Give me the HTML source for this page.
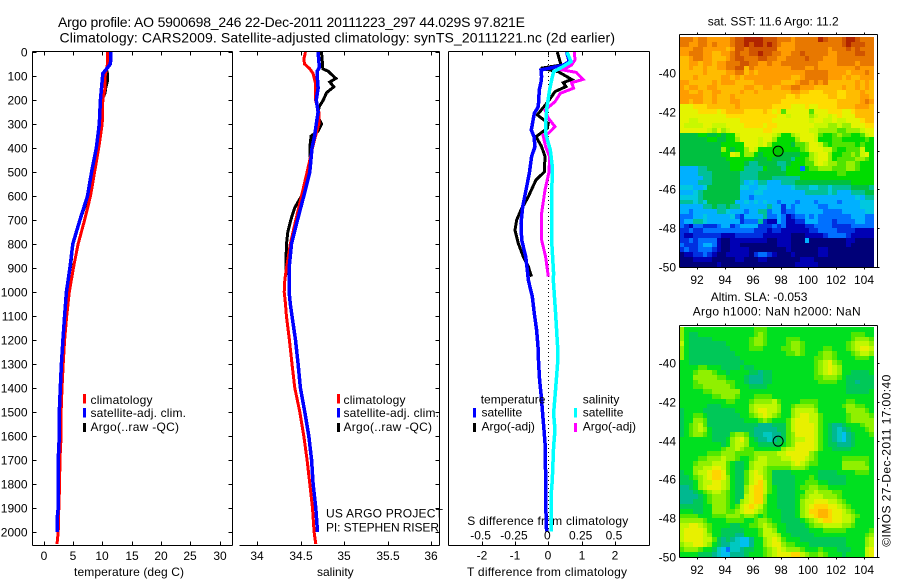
<!DOCTYPE html>
<html>
<head>
<meta charset="utf-8">
<title>Argo profile</title>
<style>
html,body{margin:0;padding:0;background:#fff;}
svg{display:block;}
text{font-family:"Liberation Sans",Arial,sans-serif;font-size:12px;fill:#000;}
.t14{font-size:14px;}
</style>
</head>
<body>
<svg id="chart" xmlns="http://www.w3.org/2000/svg" width="900" height="580" viewBox="0 0 900 580">
<text class="t14" x="58" y="27" textLength="467" lengthAdjust="spacing">Argo profile: AO 5900698_246 22-Dec-2011 20111223_297 44.029S 97.821E</text>
<text class="t14" x="59.5" y="42.5" textLength="555.5" lengthAdjust="spacing">Climatology: CARS2009. Satellite-adjusted climatology: synTS_20111221.nc (2d earlier)</text>

<text x="74" y="576" textLength="110" lengthAdjust="spacing">temperature (deg C)</text>
<text x="317" y="576">salinity</text>
<text x="467" y="576" textLength="160" lengthAdjust="spacing">T difference from climatology</text>
<text x="467.3" y="525" textLength="161" lengthAdjust="spacing">S difference from climatology</text>

<text x="326" y="517.7" textLength="117" lengthAdjust="spacing">US ARGO PROJECT</text>
<text x="326" y="531.7" textLength="113" lengthAdjust="spacing">PI: STEPHEN RISER</text>

<text x="707.7" y="25.7">sat. SST: 11.6 Argo: 11.2</text>
<text x="710.7" y="301">Altim. SLA: -0.053</text>
<text x="692.7" y="315.7" textLength="168" lengthAdjust="spacing">Argo h1000: NaN h2000: NaN</text>
<text transform="translate(890.5,546.7) rotate(-90)" x="0" y="0" textLength="172" lengthAdjust="spacing">©IMOS 27-Dec-2011 17:00:40</text>

<g id="maps"></g>
<g id="series"></g>
<g id="axes"></g>

<g>
<rect x="83" y="394" width="3" height="9.5" fill="#f00"/>
<text x="90.5" y="404" textLength="62" lengthAdjust="spacing">climatology</text>
<rect x="83" y="408" width="3" height="9.5" fill="#00f"/>
<text x="90.5" y="417" textLength="95.5" lengthAdjust="spacing">satellite-adj. clim.</text>
<rect x="83" y="423" width="3" height="9" fill="#000"/>
<text x="90.5" y="431" textLength="88.5" lengthAdjust="spacing">Argo(..raw -QC)</text>
</g>
<g>
<rect x="337" y="394" width="3" height="9.5" fill="#f00"/>
<text x="343.5" y="404" textLength="62" lengthAdjust="spacing">climatology</text>
<rect x="337" y="408" width="3" height="9.5" fill="#00f"/>
<text x="343.5" y="417" textLength="95.5" lengthAdjust="spacing">satellite-adj. clim.</text>
<rect x="337" y="423" width="3" height="9" fill="#000"/>
<text x="343.5" y="431" textLength="88.5" lengthAdjust="spacing">Argo(..raw -QC)</text>
</g>
<g>
<text x="480.7" y="403.3">temperature</text>
<rect x="473" y="408" width="3" height="9.5" fill="#00f"/>
<text x="481.5" y="416.7">satellite</text>
<rect x="473" y="423" width="3" height="9" fill="#000"/>
<text x="481.5" y="430.7">Argo(-adj)</text>
<text x="582.7" y="403.3">salinity</text>
<rect x="574" y="408" width="3" height="9.5" fill="#0ff"/>
<text x="582.7" y="416.7">satellite</text>
<rect x="574" y="423" width="3" height="9" fill="#f0f"/>
<text x="582.7" y="430.7">Argo(-adj)</text>
</g>
</svg>

<script>
// ---- tick labels ----
const depthTicks = [0,100,200,300,400,500,600,700,800,900,1000,1100,1200,1300,1400,1500,1600,1700,1800,1900,2000];
const tempTicks = [0,5,10,15,20,25,30];
const salTicks = [34,34.5,35,35.5,36];
const diffTTicks = [-2,-1,0,1,2];
const diffSTickLabels = [-0.5,-0.25,0,0.25,0.5];
const lonTicks = [92,94,96,98,100,102,104];
const latTicks = [-40,-42,-44,-46,-48,-50];
const profileLat = -44.029;
const profileLon = 97.821;

// ---- temperature profile ----
const tempClimDepth = [0,50,100,150,200,300,400,500,600,700,800,900,1000,1100,1200,1300,1400,1500,1600,1700,1800,1900,2000,2050];
const tempClimValues = [10.9,10.9,10.5,10.5,10.1,10.0,9.4,8.7,8.0,7.0,5.9,5.1,4.4,3.95,3.6,3.35,3.15,3.0,3.0,2.8,2.75,2.6,2.5,2.3];
const tempSatDepth = [0,50,75,90,200,300,400,500,600,700,800,900,1000,1100,1200,1300,1400,1500,1600,1700,1800,1900,1950,2000];
const tempSatValues = [11.5,11.4,10.6,10.1,9.7,9.5,9.0,8.2,7.5,6.2,5.0,4.5,3.9,3.6,3.3,3.05,2.86,2.7,2.7,2.5,2.5,2.5,2.3,2.3];
const tempArgoDepth = [0,50,70,90,120,150,170,200,300,350,400,500,600,700,800,850,900];
const tempArgoValues = [11.2,11.2,10.7,10.9,10.9,10.6,10.5,10.0,9.7,9.4,9.1,8.6,7.7,6.2,5.0,4.8,4.6];

// ---- salinity profile ----
const salClimDepth = [0,30,50,70,90,130,200,250,300,350,400,500,600,700,800,900,950,1000,1050,1100,1200,1300,1400,1500,1600,1700,1800,1900,2000,2050];
const salClimValues = [34.555,34.536,34.545,34.605,34.643,34.67,34.67,34.708,34.708,34.67,34.636,34.574,34.509,34.443,34.38,34.336,34.317,34.31,34.325,34.335,34.37,34.4,34.432,34.49,34.536,34.574,34.605,34.636,34.654,34.674];
const salSatDepth = [0,50,65,80,100,150,200,250,300,350,400,500,600,700,800,900,1000,1050,1100,1200,1300,1400,1500,1600,1700,1800,1900,2000];
const salSatValues = [34.70,34.712,34.715,34.69,34.69,34.70,34.68,34.70,34.68,34.66,34.63,34.605,34.536,34.463,34.394,34.366,34.366,34.38,34.40,34.44,34.47,34.497,34.547,34.593,34.625,34.643,34.674,34.693];
const salArgoDepth = [0,50,70,80,110,125,145,170,200,230,270,300,330,350,400,450,500,600,650,700,750,800,900,930];
const salArgoValues = [34.74,34.751,34.755,34.816,34.904,34.835,34.881,34.797,34.76,34.71,34.70,34.74,34.70,34.62,34.605,34.612,34.6,34.509,34.43,34.386,34.351,34.336,34.328,34.328];

// ---- difference panel: temperature differences ----
const dTSatDepth = [0,40,55,75,103,125,158,228,256,325,353,394,436,506,575,644,714,783,853,922,950,1019,1089,1158,1228,1297,1367,1436,1506,1575,1644,1783,1922,1998];
const dTSatValues = [0.55,0.63,0.45,-0.22,-0.2,-0.22,-0.27,-0.30,-0.42,-0.51,-0.43,-0.40,-0.5,-0.57,-0.67,-0.77,-0.82,-0.80,-0.68,-0.62,-0.6,-0.48,-0.42,-0.35,-0.31,-0.29,-0.26,-0.21,-0.17,-0.13,-0.09,-0.08,-0.07,-0.05];
const dTArgoDepth = [0,54,68,82,114,128,144,165,186,214,262,297,318,353,394,436,500,533,603,658,700,742,797,853,894,936];
const dTArgoValues = [0.27,0.38,-0.22,0.30,0.70,0.45,0.53,0.2,0.10,-0.05,-0.33,0,-0.03,-0.37,-0.2,-0.1,-0.12,-0.37,-0.6,-0.82,-0.95,-1.0,-0.9,-0.75,-0.6,-0.5];

// ---- difference panel: salinity differences ----
const dSArgoDepth = [0,33,54,75,85,114,128,151,172,207,242,276,311,339,346,394,436,500,575,672,783,853,936];
const dSArgoValues = [0.195,0.2,0.175,0.11,0.21,0.26,0.175,0.19,0.09,0.05,-0.025,0,0.05,0,-0.04,-0.02,0.01,0.005,-0.025,-0.05,-0.05,-0.02,0];
const dSSatDepth = [0,40,61,82,117,158,228,297,339,408,478,644,783,922,950,1089,1228,1297,1367,1436,1506,1575,1644,1783,1853,1922,1998];
const dSSatValues = [0.14,0.17,0.11,0.04,0.025,0.01,-0.01,-0.02,-0.02,0.015,0.03,0.025,0.025,0.04,0.0375,0.055,0.07,0.07,0.06,0.05,0.04,0.05,0.04,0.03,0.02,0.02,0.02];

// ---- map colour classes (low a -> high s) ----
const sstColors = {a:'#000078',b:'#0000b4',c:'#0030e0',d:'#0070ff',e:'#00b0ff',f:'#00c8e0',g:'#00c098',h:'#00c040',i:'#00dc00',j:'#50e400',k:'#98f000',l:'#c8f800',m:'#e4f400',n:'#ffdc00',o:'#ffbc00',p:'#ff9c00',q:'#e87800',r:'#d05400',s:'#b02400'};
const slaColors = {a:'#000078',b:'#0000b4',c:'#0030e0',d:'#0070ff',e:'#00c0f0',f:'#00c8c0',g:'#00b890',h:'#00c858',i:'#00e020',j:'#50e800',k:'#90f000',l:'#c0f800',m:'#e8f000',n:'#ffd400',o:'#ffb400'};

const sstRows = [
"qqqpqqpppp pqrrssssrr rqqqpqqqqq srqqqrssrq qq",
"qqppqqpqpp pqrrsrssrs rqpppqqqqq qqqqqrsrrr qq",
"pppqqppppp oprrqrrrrr rppppqqqqq qqpqqqrqrq qq",
"ppqqqppoop pqrqqrrsrr qqppqqrqqq qqppqqqqrr qq",
"oopqqppooo pqrrqqqrrq qppqqqqrqq qpppqqqqqq qq",
"ooppoppopp qqqrrqqppq ppqqqqqqqq ppppqqqqpq qq",
"oopoopoopp qqrroqpppp ppppqqqppq ppppppppqp pp",
"ooooopoooo ppqqopoppp pppppppqqq qqppppoppp qp",
"ooopooooop popopppppp ppppoopqqq qqpppopoop pp",
"ppooooopop ppoooopppp ppooopqqpq pqoooooopo po",
"poppooppoo ooooppoopp ooppqqpppo ooooopoopo po",
"ppoopooppo ooopoopooo ooooppoonn nooonnooop oo",
"pppppoopoo opoooooooo ooonnonnnn nnoonnooop po",
"ppoppoopoo oppooooooo oonnnnnnnn nnnnooooop qp",
"mmmnnnoooo oopooooooo nnnnmmmnmm nnnnoooopp po",
"mmmmnnnnmn oooonnnnon mnjmmmmmjm mmnnnmmnoo oo",
"mmmmmmmmmm nnnnnnnnnn nmmlmmmmkl mmlmnmmmoo oo",
"mmllmmmmmm mmmnnnnnnn mmmmmmmmlm mllmllmmmn oo",
"mllllmmlll mmmmnnnnmn nmmmmmmmml llkklkkmmm nn",
"mmmmmmlkmk lmmmmmmmnn mmmmmmmmll kkkkjjkkkl mm",
"hhhhiihhih iilmmmmmmm lkiiklmmml jiijkjjiij lm",
"hhhhhhiihh iikmmmmlmm kiiiikmmml iiijjiiiii ji",
"hhhhhhhhhi iiiimmmlmk iiiihjjkmm ljijjjjjij ii",
"hhhhhhhhhk ihiikmliii iiiiiijkmm mlljiijjjl ii",
"hhhhhhhhhi imlikkihii ihhhhhiikl mmkiijjkjl mi",
"hhhhhhhhhh iiiiiihhhi hhhhgiijkl mmkijjjjkk ji",
"hhhhhhhhhh hiiihgghhh hgghiiijjl mlkkjjkkji ii",
"eeeegghhhh hiiiggggih hhgiiidijj kkkjjjkkji ii",
"eeeeggghhh hhhgggghhh hhhiiiiiii iiiijjiiii ii",
"eeeeegghhh hhhgggghhh ggggggiiii iiiiiiiiii ii",
"eeeeggghhh hhhgefegge eeggghhhhh hhhhhhhiii ii",
"fffeefhhhh hhhffeeffe eeeefgggff ggfgggghhh hg",
"eeefghhhhh hhheeeffee eeeeeeeggg ggfgeeeggg hh",
"ffffghhhhh hhheedeeee eeeeeeeeee eeeeeeeefe gg",
"gggfgfhhhh hheefefefe edeeedeeed eeeedeeeef ff",
"eeeeegghgg hggeeeeeeg eecedeeeee ddeeeeeeef ff",
"eedeeeeegg feeedeeggd eecddeeeee eddddeeeee ff",
"dddeefeeee efdceeeegd dedbcddede dddddddeee dd",
"deeggfeeee eeecdddgcb bedbbcceee dddcddddee dd",
"dcbddcccde ecdeeeeccc dcdbbbbccd dddccccddd dd",
"ccdccddddd ddddddcccb ccbbbbbbcc ddddccccbb bb",
"cbbccccccb bbccccccbb bbbbaaabbb bcddddcbbb bb",
"ccdcddddba abbbbbbbba abbbaaaeaa aaaaaabbaa aa",
"dcccdeedba abbaaaaaaa abbbaaaaaa aaaaaabaaa aa",
"cdccdddcba abbbbaaaaa aaabaaaaaa bbaaaaaaaa aa",
"abbccdcbaa bbbbbacddc baaabaaaaa bbaaaaaaaa aa",
"aaabbbbaaa aabbaaabba aaaaaabbba aaaaaaaaaa aa",
"aaaaaaaaba aaaaaaaaaa aaaaabbbbb aaaaaaaaaa aa"
];

const slaRows = [
"kiiiiiiiii iiiiiijjji iiiiiiiiii iiiiiiiiii ii",
"kihhiiiiii iiiiiijkji iiiiiiiiii iiiiiiijjj ii",
"kihhhhhiii iiiiijkkji iiijjjiiii iiiiiiijkk kj",
"lihhhhhhhh iiiiijkkji iiijkkjiii iiiiiijkll lk",
"kihhhhhhhh hiiiijjjii iijjkkjiii ijjiiijklm ml",
"kihhhhhhhh hhiiiiiiii iiijjkjiii jkkjiiijkl lk",
"kihhhhhhhh hhhiiiiiii iiiiiiiiij jkkjiiiijj ji",
"iihhhhhhhh hhhhiiiiii iiiiiiiiij klmkjiiiii ii",
"iiiijjiiih hhhihhiiii iiiiiiiiij klmlkiiiii ii",
"iiijkkkjii hiiiihhghh iiiiiiiiij klmlkiihhh hi",
"iiikkkkkjj iiiihggghh iiiiiiiiij jkkkjihhhh hh",
"iiijkkkkkk jjiihggghh iiiiiiiiii jjjjiihhgh hh",
"iiijjkkkkk kjiiihhhhi iiiiiiiiii iiiiiihhhh hh",
"iiiiijjkkk kkkiiiiiii iiiiiiiiii iiiiiihhhh hi",
"iiiiiiijjk kkjiiijjjj iiiiiiiiii iiiiiiiiii ii",
"iiiiiiiiii jjiiijkkkk ljiiiijjjj iiiiiijjii ii",
"iiiiiihhhi iiiiikllll lkiijkkkkj iiiiijkkjj ii",
"hiiiihhhhh hhiiiklmml lkiikllllk iiiiiikkkk ji",
"hiijjihhhh hhhiijklml kjiiklmmll jiiiiijkkk kj",
"hiikkjhhhh hhhhiiijkj iiijlmmmll jiiiiijkkk kk",
"hijkljhhhh hhhhhhhggg hhhjlmmmml jihgghiiij kk",
"hijklkihhh hhhhhhgggg ghhjlmmmml jihgfghiii jk",
"hijkkjihhh hjkkjhggff gghjkmmmml jihgfeghii ij",
"iiiiiiihhh iklmkihggf ghhjkllmml jihgfeghii ii",
"iiiiiiiiih ikllkiihhh hhijkmmmml jihhggghii ii",
"iiiiiiiiij kklkjjiiii iikllmmmml jiihhhhiii ii",
"iiiiiijjjk kkjjjjkkkk kllmmmmmkj iiiiiiiiii ii",
"iiiijjkkkl kkjiijkllk kkllmmmlkj iiiiijjjjj ji",
"iiijkkklll jihhiklllk kkkklmlkjj iiiiikkkkk ji",
"iiikkllmml jihhikllkj jjjjkkkjii iiiiikkkkk ki",
"hiikllmnnm jihhjlmlkj hhhhiiiiii hhhhiiiijj ji",
"hhijklmnnm kihhjlmmkj hhhhhiiiji hhhhhhiiii ii",
"hhhikllmml kihhjlmnlj hhhhhiijjj iihhhhiiii ii",
"gghiklmmml kihhkmnnlj ihhhhijjkk jjiiiiiiii ii",
"ggghijkllk jihhkmnnlj ihhhhiikkl kkkjjiiiii ii",
"gggghijkkk jihhlmnnki ihhhhijkll lkkkjiiiii ii",
"ggghhijkkk jihklmnnki ihhhhikllm mmllkjiiii ii",
"hhhhhiikkk jijlmnmlji ihhhhiklmn nnmmlkjiii ii",
"iiihhiikkk jjklmmlkji iihhhiklnn oonmmlkjii ii",
"jjjjiiijjj kkkjkkjiji iihhhiklmn oonmmllkji ii",
"kkkkkjiiii jjjjiijkkj iihhhhijkl mnnmmllkii ii",
"llmmlkjiii ihhiijjklk jiihhhhijk kllllkkjii ii",
"lmmmmljiih hhhhiiijll kiihhhhhii ijjjjjiiii ij",
"lmmmmlkiih hhggiiijll lkiihhhhhi iiiiiiiiii jk",
"lmmmmlljhg hgfeegiikl mljiiihhhh hhhhhhiiii kl",
"kllmmlkihg gffeegiikl mmkjjiiihh hhhhhhiiii kl",
"jkkkjiihfe dffghhiijk lmlkkkjiii jiiihhhiii lm",
"iiiihhhgfe eggghiiijk lmmmnnlkjj kjiiihiiii lm"
];

// ---- axis functions ----
function depthY(d){ return 52 + d * 0.24; }
function tempX(t){ return 43.5 + 5.87 * t; }
function salX(s){ return 257.3 + 86.8 * (s - 34); }
function diffTX(t){ return 548.3 + 33.3 * t; }
function diffSX(s){ return 548.3 + 133.3 * s; }
function lonX(lon){ return 697.3 + (lon - 92) * 13.89; }
function sstLatY(lat){ return 73.3 + (-40 - lat) * 19.33; }
function slaLatY(lat){ return 363.3 + (-40 - lat) * 19.33; }

const NS = 'http://www.w3.org/2000/svg';
const axesG = document.getElementById('axes');
const seriesG = document.getElementById('series');
const mapsG = document.getElementById('maps');

function mk(parent, tag, attrs){
  const el = document.createElementNS(NS, tag);
  for (const k in attrs) el.setAttribute(k, attrs[k]);
  parent.appendChild(el);
  return el;
}
function axisLine(x1,y1,x2,y2){
  return mk(axesG,'line',{x1:x1,y1:y1,x2:x2,y2:y2,stroke:'#000','stroke-width':1,'shape-rendering':'crispEdges'});
}
function label(x,y,str,anchor){
  const t = mk(axesG,'text',{x:x,y:y,'text-anchor':anchor});
  t.textContent = String(str);
  return t;
}
function profile(depths, values, xFn, color, width){
  const pts = depths.map(function(d,i){ return xFn(values[i]).toFixed(1)+','+depthY(d).toFixed(1); }).join(' ');
  return mk(seriesG,'polyline',{points:pts,fill:'none',stroke:color,'stroke-width':width,'stroke-linejoin':'miter','shape-rendering':'crispEdges'});
}

// ---- profile panels frames ----
const frames = [
  {l:32.5,r:232.5,left:true},
  {l:239.5,r:439.5,left:false},
  {l:448.5,r:649.5,left:true}
];
frames.forEach(function(f){
  let a = axisLine(f.l,51.5,f.r,51.5);
  
  
  a = axisLine(f.l,545.5,f.r,545.5);
  
  
  a = axisLine(f.r,51.5,f.r,545.5);
  
  
  if (f.left) {
    a = axisLine(f.l,51.5,f.l,545.5);
    
    
  }
});

// depth ticks and labels
depthTicks.forEach(function(d){
  const y = Math.round(depthY(d)) + 0.5;
  const lab = label(27.5, y + 4, d, 'end');
  
  
  [[32.5,36.5],[228.5,232.5],[435.5,439.5]].forEach(function(p){
    const tk = axisLine(p[0],y,p[1],y);
    
    
  });
});

function xTicks(values, xFn, fmt, baseline){
  values.forEach(function(v){
    const x = Math.round(xFn(v)) + 0.5;
    let tk = axisLine(x,51.5,x,55.5);
    
    
    tk = axisLine(x,541.5,x,545.5);
    
    
    const lab = label(x - 0.5, baseline, fmt(v), 'middle');
    
    
  });
}
xTicks(tempTicks, tempX, function(v){return v;}, 560);
xTicks(salTicks, salX, function(v){return v;}, 560);
xTicks(diffTTicks, diffTX, function(v){return v;}, 559.5);

diffSTickLabels.forEach(function(v){
  const lab = label(diffSX(v) - 1, 539.3, v, 'middle');
  
  
});

// zero reference line
const zeroLine = mk(seriesG,'line',{x1:diffTX(0),y1:depthY(0),x2:diffTX(0),y2:depthY(2010),stroke:'#000','stroke-width':1,'stroke-dasharray':'1 3','shape-rendering':'crispEdges'});



// ---- series ----
let s;
s = profile(tempArgoDepth,tempArgoValues,tempX,'#000',3);


s = profile(tempClimDepth,tempClimValues,tempX,'#f00',3);


s = profile(tempSatDepth,tempSatValues,tempX,'#00f',3.5);



s = profile(salArgoDepth,salArgoValues,salX,'#000',3);


s = profile(salClimDepth,salClimValues,salX,'#f00',3);


s = profile(salSatDepth,salSatValues,salX,'#00f',3.5);



s = profile(dTArgoDepth,dTArgoValues,diffTX,'#000',3);


s = profile(dTSatDepth,dTSatValues,diffTX,'#00f',3.5);


s = profile(dSArgoDepth,dSArgoValues,diffSX,'#f0f',3);


s = profile(dSSatDepth,dSSatValues,diffSX,'#0ff',3.5);



// ---- maps ----
const cellLonStart = 90.72;
const cellLonStep = 1/3;
const cellLatStart = -38.12;
const cellLatStep = -0.2475;
function drawMap(rows, latY, colors, mapName){
  rows.forEach(function(rowStr, r){
    const row = rowStr.replace(/ /g,'');
    const y0 = Math.round(latY(cellLatStart + r*cellLatStep));
    const y1 = Math.round(latY(cellLatStart + (r+1)*cellLatStep));
    for (let c = 0; c < 42; c++) {
      const ch = row[c] || row[row.length-1];
      const x0 = Math.round(lonX(cellLonStart + c*cellLonStep));
      const x1 = Math.min(876, Math.round(lonX(cellLonStart + (c+1)*cellLonStep)));
      const cell = mk(mapsG,'rect',{x:x0,y:y0,width:x1-x0,height:y1-y0,fill:colors[ch]});
      
      
    }
  });
}
drawMap(sstRows, sstLatY, sstColors, 'sst-cell');
drawMap(slaRows, slaLatY, slaColors, 'sla-cell');

function mapFrame(top, bottom, latY, xBase){
  let a = axisLine(679.5,top,877.5,top);
  
  
  a = axisLine(679.5,bottom,877.5,bottom);
  
  
  a = axisLine(679.5,top,679.5,bottom);
  
  
  a = axisLine(877.5,top,877.5,bottom);
  
  
  lonTicks.forEach(function(v){
    const x = Math.round(lonX(v)) + 0.5;
    let tk = axisLine(x,top-2,x,top);
    
    
    tk = axisLine(x,bottom,x,bottom+2);
    
    
    const lab = label(x - 0.5, xBase, v, 'middle');
    
    
  });
  latTicks.forEach(function(v){
    const y = Math.round(latY(v)) + 0.5;
    let tk = axisLine(877.5,y,879.5,y);
    
    
    const lab = label(676, y + 4, v, 'end');
    
    
  });
}
mapFrame(34.5, 267.5, sstLatY, 284);
mapFrame(325.5, 557.5, slaLatY, 574);

const marker1 = mk(axesG,'circle',{cx:lonX(profileLon),cy:sstLatY(profileLat),r:5,fill:'#00c800',stroke:'#000','stroke-width':1});


const marker2 = mk(axesG,'circle',{cx:lonX(profileLon),cy:slaLatY(profileLat),r:5,fill:'none',stroke:'#000','stroke-width':1});


</script>
</body>
</html>
